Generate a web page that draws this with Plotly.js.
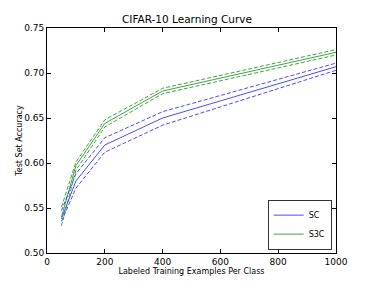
<!DOCTYPE html>
<html>
<head>
<meta charset="utf-8">
<script src="https://cdn.plot.ly/plotly-3.0.1.min.js"></script>
<style>html,body{margin:0;padding:0;background:#fff;}#chart{width:374px;height:282px;}</style>
</head>
<body>
<div id="chart"></div>
<script>
const examples = [50, 100, 200, 400, 1000];
const scMean  = [0.538, 0.580, 0.620, 0.650, 0.707];
const scUpper = [0.547, 0.588, 0.628, 0.657, 0.711];
const scLower = [0.535, 0.572, 0.612, 0.642, 0.703];
const s3cMean  = [0.540, 0.597, 0.644, 0.680, 0.723];
const s3cUpper = [0.551, 0.601, 0.648, 0.683, 0.726];
const s3cLower = [0.530, 0.592, 0.640, 0.677, 0.720];
const xTicks = [0, 200, 400, 600, 800, 1000];
const yTicks = [0.50, 0.55, 0.60, 0.65, 0.70, 0.75];

const blue = 'rgba(30,30,255,0.8)';
const green = 'rgba(20,140,20,0.8)';
function tr(y, color, name, dashed, legend) {
  return {x: examples, y: y, type: 'scatter', mode: 'lines', name: name,
    showlegend: legend, hoverinfo: 'skip',
    line: {color: color, width: 1, dash: dashed ? '4px,2px' : 'solid'}};
}
const data = [
  tr(scMean, blue, 'SC', false, true),
  tr(s3cMean, green, 'S3C', false, true),
  tr(scUpper, blue, 'SC+', true, false),
  tr(scLower, blue, 'SC-', true, false),
  tr(s3cUpper, green, 'S3C+', true, false),
  tr(s3cLower, green, 'S3C-', true, false)
];
const axisCommon = {showgrid: false, zeroline: false, showline: true, linecolor: '#000', linewidth: 1,
  mirror: 'ticks', ticks: 'inside', ticklen: 4, tickcolor: '#000', tickfont: {family: 'DejaVu Sans', size: 9, color: '#000'}};
const layout = {
  width: 374, height: 282,
  margin: {l: 47, r: 38, t: 28, b: 29},
  paper_bgcolor: '#fff', plot_bgcolor: '#fff',
  title: {text: 'CIFAR-10 Learning Curve', font: {family: 'DejaVu Sans', size: 10.5, color: '#000'}, x: 0.5, xanchor: 'center', y: 0.932, yanchor: 'middle', yref: 'container', automargin: false},
  xaxis: Object.assign({}, axisCommon, {range: [0, 1000], tickvals: xTicks, ticktext: xTicks.map(String),
    title: {text: 'Labeled Training Examples Per Class', font: {family: 'DejaVu Sans', size: 8, color: '#000'}, standoff: 1}}),
  yaxis: Object.assign({}, axisCommon, {range: [0.5, 0.75], tickvals: yTicks, ticktext: yTicks.map(v => v.toFixed(2)),
    title: {text: 'Test Set Accuracy', font: {family: 'DejaVu Sans', size: 8, color: '#000'}, standoff: 0}}),
  legend: {x: 0.985, y: 0.015, xanchor: 'right', yanchor: 'bottom', bgcolor: '#fff', bordercolor: '#333', borderwidth: 1,
    font: {family: 'DejaVu Sans', size: 8, color: '#000'}, tracegroupgap: 0, itemwidth: 30}
};
Plotly.newPlot('chart', data, layout, {displayModeBar: false, staticPlot: true});
</script>
</body>
</html>
